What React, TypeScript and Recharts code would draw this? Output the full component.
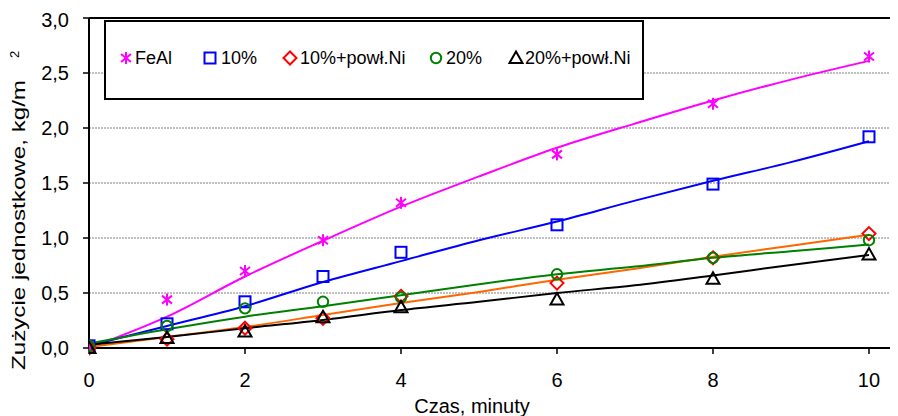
import React from 'react';
import { ComposedChart, Line, Scatter, XAxis, YAxis, CartesianGrid, ReferenceLine, Customized } from 'recharts';

const pointTimes = [0, 1, 2, 3, 4, 6, 8, 10];
const fealPoints = [0.0, 0.44, 0.7, 0.98, 1.32, 1.76, 2.22, 2.65];
const p10Points = [0.02, 0.22, 0.42, 0.65, 0.87, 1.12, 1.49, 1.92];
const p10NiPoints = [0.0, 0.08, 0.18, 0.27, 0.47, 0.59, 0.82, 1.04];
const p20Points = [0.02, 0.2, 0.36, 0.42, 0.46, 0.67, 0.82, 0.98];
const p20NiPoints = [0.0, 0.09, 0.15, 0.28, 0.37, 0.44, 0.63, 0.85];

const trendTimes = [0, 1, 2, 3, 4, 5, 6, 7, 8, 9, 10];
const fealTrend = [0.0, 0.285, 0.65, 0.975, 1.285, 1.56, 1.82, 2.04, 2.25, 2.44, 2.61];
const p10Trend = [0.02, 0.2, 0.38, 0.6, 0.79, 0.98, 1.15, 1.34, 1.52, 1.69, 1.88];
const p10NiTrend = [0.01, 0.1, 0.19, 0.3, 0.41, 0.51, 0.62, 0.72, 0.83, 0.93, 1.03];
const p20Trend = [0.04, 0.17, 0.285, 0.38, 0.48, 0.58, 0.67, 0.74, 0.82, 0.88, 0.94];
const p20NiTrend = [0.03, 0.1, 0.18, 0.255, 0.345, 0.42, 0.5, 0.57, 0.66, 0.755, 0.845];

const seriesNames = ['FeAl', '10%', '10%+powł.Ni', '20%', '20%+powł.Ni'];
const xTicks = [0, 2, 4, 6, 8, 10];
const yTicks = [0, 0.5, 1, 1.5, 2, 2.5, 3];

const FONT = '"Liberation Sans", Arial, sans-serif';

const toPts = (vals: number[]) => pointTimes.map((x, i) => ({ x, y: vals[i] }));
const toTrend = (vals: number[]) => trendTimes.map((x, i) => ({ x, y: vals[i] }));

const Asterisk = ({ cx, cy }: any) => (
  <g stroke="#FF00FF" strokeWidth={2}>
    <line x1={cx} y1={cy - 6} x2={cx} y2={cy + 6} />
    <line x1={cx - 5} y1={cy - 4} x2={cx + 5} y2={cy + 4} />
    <line x1={cx - 5} y1={cy + 4} x2={cx + 5} y2={cy - 4} />
  </g>
);
const Square = ({ cx, cy }: any) => (
  <rect x={cx - 5.5} y={cy - 5.5} width={11} height={11} fill="none" stroke="#0000FF" strokeWidth={2} />
);
const Diamond = ({ cx, cy }: any) => (
  <polygon points={`${cx},${cy - 6.5} ${cx + 6.5},${cy} ${cx},${cy + 6.5} ${cx - 6.5},${cy}`} fill="none" stroke="#FF0000" strokeWidth={2} />
);
const Circ = ({ cx, cy }: any) => <circle cx={cx} cy={cy} r={5.2} fill="none" stroke="#008000" strokeWidth={2} />;
const Tri = ({ cx, cy }: any) => (
  <polygon points={`${cx},${cy - 6.5} ${cx + 6.5},${cy + 5} ${cx - 6.5},${cy + 5}`} fill="none" stroke="#000000" strokeWidth={2} />
);

const markers = [Asterisk, Square, Diamond, Circ, Tri];
const legendMarkerX = [22, 106, 186, 332, 412];
const legendTextX = [31, 117, 196, 342, 421];

const LegendBox = () => (
  <g transform="translate(96,12)">
    <rect x={1} y={1} width={538} height={78} fill="#fff" stroke="#000" strokeWidth={2} />
    {seriesNames.map((name, i) => {
      const M = markers[i];
      return (
        <g key={name}>
          <M cx={legendMarkerX[i]} cy={38} />
          <text x={legendTextX[i]} y={44} fontSize={18} fontFamily={FONT} fill="#000">
            {name}
          </text>
        </g>
      );
    })}
  </g>
);

const fmt = (v: number) => v.toFixed(1).replace('.', ',');

export default function App() {
  return (
    <ComposedChart width={890} height={408} margin={{ top: 10, right: 0, bottom: 28, left: 0 }}>
      <CartesianGrid horizontal vertical={false} stroke="#808080" strokeDasharray="2 1" />
      <XAxis
        dataKey="x"
        type="number"
        domain={[0, 10.372]}
        allowDataOverflow
        ticks={xTicks}
        height={40}
        tickSize={6}
        tickMargin={19}
        axisLine={{ stroke: '#000', strokeWidth: 2 }}
        tickLine={{ stroke: '#000', strokeWidth: 1.5 }}
        tick={{ fontSize: 20, fill: '#000', fontFamily: FONT }}
        label={{
          content: () => (
            <text x={464} y={405} textAnchor="middle" fontSize={20} fontFamily={FONT} fill="#000">
              Czas, minuty
            </text>
          ),
        }}
      />
      <YAxis
        type="number"
        domain={[0, 3]}
        ticks={yTicks}
        width={81}
        tickSize={6}
        tickMargin={14}
        tickFormatter={fmt}
        axisLine={{ stroke: '#000', strokeWidth: 2 }}
        tickLine={{ stroke: '#000', strokeWidth: 1.5 }}
        tick={{ fontSize: 20, fill: '#000', fontFamily: FONT }}
        label={{
          content: () => (
            <g>
              <text
                transform="translate(17,362) rotate(-90)"
                fontSize={18}
                fontFamily={FONT}
                fill="#000"
                textLength={290}
                lengthAdjust="spacingAndGlyphs"
              >
                Zużycie jednostkowe,  kg/m
              </text>
              <text transform="translate(11,50) rotate(-90)" fontSize={13} fontFamily={FONT} fill="#000">
                2
              </text>
            </g>
          ),
        }}
      />
      <ReferenceLine y={3} stroke="#000" strokeWidth={2} />
      <Line data={toTrend(fealTrend)} dataKey="y" type="monotone" stroke="#FF00FF" strokeWidth={2} dot={false} isAnimationActive={false} />
      <Line data={toTrend(p10Trend)} dataKey="y" type="monotone" stroke="#0000FF" strokeWidth={2} dot={false} isAnimationActive={false} />
      <Line data={toTrend(p10NiTrend)} dataKey="y" type="monotone" stroke="#FF6600" strokeWidth={2} dot={false} isAnimationActive={false} />
      <Line data={toTrend(p20Trend)} dataKey="y" type="monotone" stroke="#008000" strokeWidth={2} dot={false} isAnimationActive={false} />
      <Line data={toTrend(p20NiTrend)} dataKey="y" type="monotone" stroke="#000000" strokeWidth={2} dot={false} isAnimationActive={false} />
      <Scatter data={toPts(fealPoints)} dataKey="y" shape={(p: any) => <Asterisk cx={p.cx} cy={p.cy} />} isAnimationActive={false} />
      <Scatter data={toPts(p10Points)} dataKey="y" shape={(p: any) => <Square cx={p.cx} cy={p.cy} />} isAnimationActive={false} />
      <Scatter data={toPts(p10NiPoints)} dataKey="y" shape={(p: any) => <Diamond cx={p.cx} cy={p.cy} />} isAnimationActive={false} />
      <Scatter data={toPts(p20Points)} dataKey="y" shape={(p: any) => <Circ cx={p.cx} cy={p.cy} />} isAnimationActive={false} />
      <Scatter data={toPts(p20NiPoints)} dataKey="y" shape={(p: any) => <Tri cx={p.cx} cy={p.cy} />} isAnimationActive={false} />
      <Customized component={LegendBox} />
    </ComposedChart>
  );
}
